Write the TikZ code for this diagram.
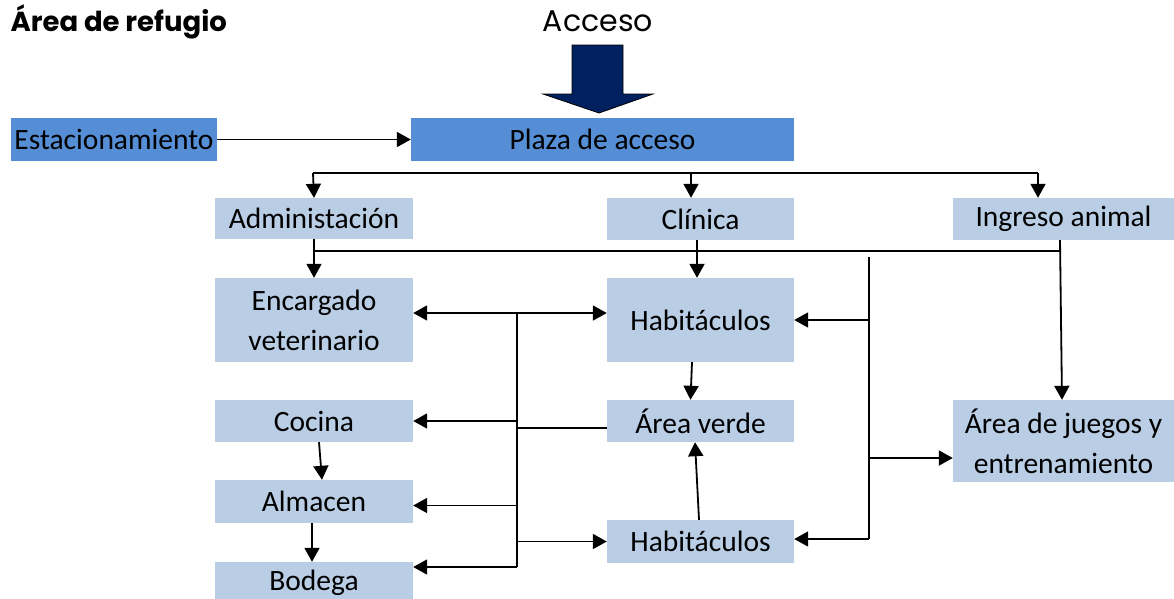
\documentclass[tikz,border=0pt]{standalone}
\usepackage{fontspec}
\setmainfont{Carlito}
\newfontfamily\titlefont{Poppins}
\usepackage{xcolor}
\definecolor{AzulClaro}{RGB}{185,205,229}
\definecolor{AzulMedio}{RGB}{85,142,213}
\definecolor{AzulOscuro}{RGB}{0,32,96}
\usepackage{tikz}
\usetikzlibrary{arrows.meta, positioning}

\begin{document}
\begin{tikzpicture}[
  x=1pt, y=-1pt,
  font=\fontsize{29.5}{40}\selectfont,
  blk/.style={fill=AzulClaro, inner sep=0pt, align=center},
  dblk/.style={fill=AzulMedio, inner sep=0pt, align=center},
  arr/.style={-{Triangle[length=14pt, width=15pt]}, line width=1.8pt},
  lin/.style={line width=1.8pt},
  tit/.style={font=\titlefont\fontsize{27.5}{30}\selectfont\bfseries, anchor=west},
  acc/.style={font=\titlefont\fontsize{30}{32}\selectfont}
]
\useasboundingbox (0,0) rectangle (1174,598);

\node[tit] (titulo) at (7, 22) {Área de refugio};
\node[acc] (acceso) at (598, 21) {Acceso};
\fill[AzulOscuro, draw=black, line width=0.8pt]
  (572,45) -- (623,45) -- (623,94) -- (653,94) -- (599,113)
  -- (543,94) -- (572,94) -- cycle;

\node[dblk, minimum width=206pt, minimum height=43pt] (estac) at (114, 139.5) {Estacionamiento};
\node[dblk, minimum width=383pt, minimum height=43pt] (plaza) at (602.5, 139.5) {Plaza de acceso};

\node[blk, minimum width=198pt, minimum height=41pt] (admin)   at (314, 218.5) {Administación};
\node[blk, minimum width=187pt, minimum height=42pt] (clinica) at (700.5, 219) {Clínica};
\node[blk, minimum width=221pt, minimum height=42pt] (ingreso) at (1063.5, 219) {Ingreso animal};

\node[blk, minimum width=198pt, minimum height=84pt] (encargado) at (314, 320) {Encargado\\veterinario};
\node[blk, minimum width=187pt, minimum height=84pt] (habit1)    at (700.5, 320) {Habitáculos};

\node[blk, minimum width=198pt, minimum height=42pt] (cocina) at (314, 421) {Cocina};
\node[blk, minimum width=187pt, minimum height=42pt] (averde) at (700.5, 421) {Área verde};
\node[blk, minimum width=221pt, minimum height=82pt] (juegos) at (1063.5, 441) {Área de juegos y\\entrenamiento};

\node[blk, minimum width=198pt, minimum height=43pt] (almacen) at (314, 501.5) {Almacen};
\node[blk, minimum width=187pt, minimum height=43pt] (habit2)  at (700.5, 541.5) {Habitáculos};
\node[blk, minimum width=198pt, minimum height=42pt] (bodega)  at (314, 583) {Bodega};

\coordinate (busA) at (313, 173);
\coordinate (busB) at (1038, 173);
\coordinate (busC) at (313, 251);
\coordinate (busD) at (1060, 251);
\coordinate (tl1) at (517, 313);
\coordinate (tl2) at (517, 567);
\coordinate (tr1) at (869, 257);
\coordinate (tr2) at (869, 539);
\coordinate (tj)  at (869, 458);

\draw[arr] (estac) -- (plaza);

\draw[lin] (busA) -- (busB);
\draw[arr] (busA) -- (admin.north);
\draw[arr] (busA -| 691,0) -- (admin.north -| 691,0);
\draw[arr] (busB) -- (busB |- ingreso.north);

\draw[lin] (busC) -- (busD);
\draw[arr] (admin) -- (encargado);
\draw[arr] (busD |- ingreso.south) -- ([shift={(-1.5,0)}]juegos.north);
\draw[arr] ([shift={(-3.5,0)}]clinica.south) -- ([shift={(-3.5,0)}]habit1.north);
\draw[arr] ([shift={(-8.5,0)}]habit1.south) -- ([shift={(-10,0)}]averde.north);
\draw[arr] ([shift={(-1.5,0)}]habit2.north) -- ([shift={(-5.5,0)}]averde.south);
\draw[arr] ([shift={(5,0)}]cocina.south) -- ([shift={(8,0)}]almacen.north);
\draw[arr] ([shift={(-2,0)}]almacen.south) -- ([shift={(-2,0)}]bodega.north);

\draw[lin] (tl1) -- (tl2);
\draw[arr] (tl1) -- (tl1 -| encargado.east);
\draw[arr] (tl1) -- (tl1 -| habit1.west);
\draw[arr] (tl1 |- cocina) -- (cocina);
\draw[lin] ([shift={(0,7)}]averde.west) -- ([shift={(0,7)}]averde.west -| tl1);
\draw[arr] ([shift={(0,4)}]tl1 |- almacen) -- ([shift={(0,4)}]almacen.east);
\draw[arr] (tl1 |- habit2) -- (habit2);
\draw[arr] (tl2) -- (tl2 -| bodega.east);

\draw[lin] (tr1) -- (tr2);
\draw[arr] (tr1 |- habit1) -- (habit1);
\draw[arr] (tj) -- (tj -| juegos.west);
\draw[arr] (tr2) -- (tr2 -| habit2.east);
\end{tikzpicture}
\end{document}
